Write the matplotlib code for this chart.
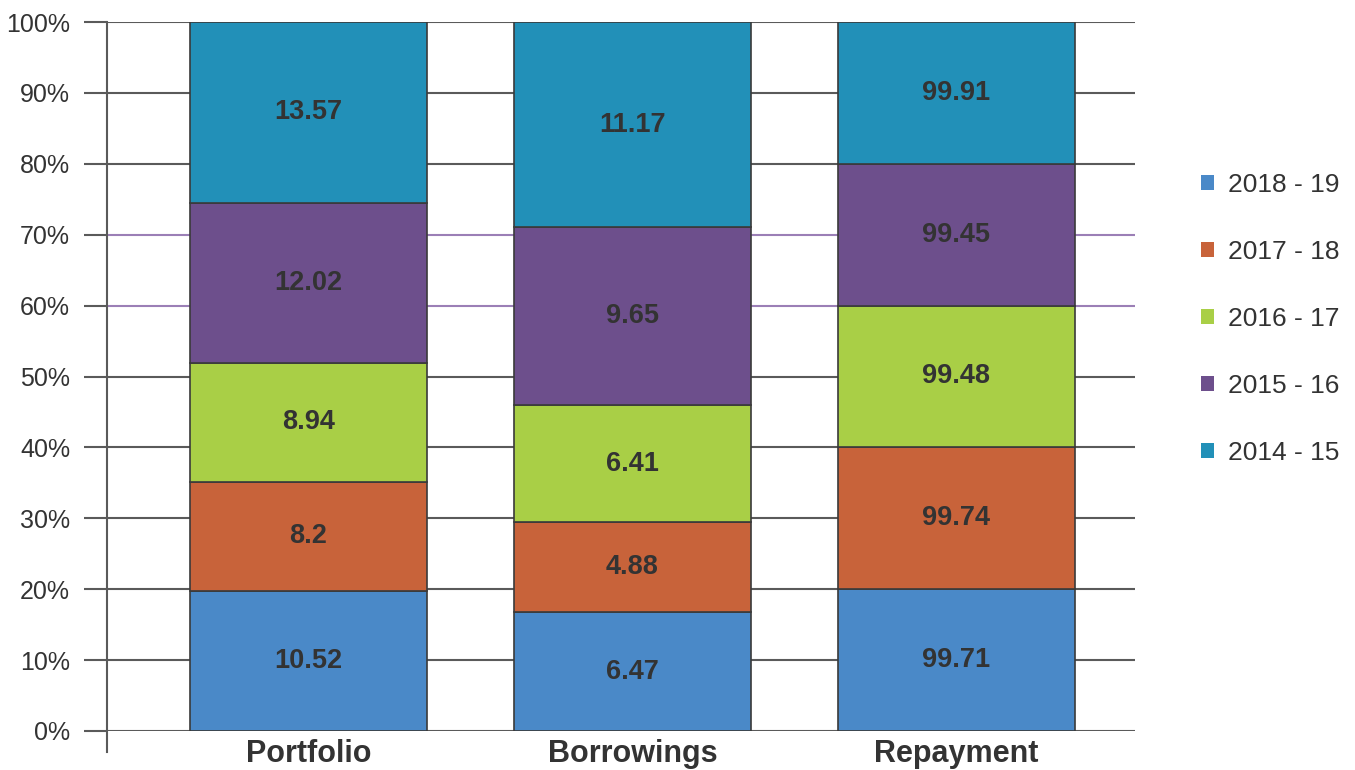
import numpy as np
import matplotlib.pyplot as plt
from matplotlib.lines import Line2D

plt.rcParams['font.family'] = ['Liberation Sans', 'DejaVu Sans']

categories = ['Portfolio', 'Borrowings', 'Repayment']
years = ['2018 - 19', '2017 - 18', '2016 - 17', '2015 - 16', '2014 - 15']
values = {
    '2018 - 19': [10.52, 6.47, 99.71],
    '2017 - 18': [8.2, 4.88, 99.74],
    '2016 - 17': [8.94, 6.41, 99.48],
    '2015 - 16': [12.02, 9.65, 99.45],
    '2014 - 15': [13.57, 11.17, 99.91],
}
colors = ['#4a89c8', '#c8633a', '#a9cf46', '#6d4f8c', '#2290b8']

fig = plt.figure(figsize=(13.55, 7.7), dpi=100)
ax = fig.add_axes([107 / 1355, 1 - 731 / 770, (1135 - 107) / 1355, (731 - 22) / 770])

x = np.arange(len(categories))
totals = np.sum([values[y] for y in years], axis=0)
bottom = np.zeros(len(categories))
for yr, col in zip(years, colors):
    raw = np.array(values[yr])
    share = raw / totals * 100
    ax.bar(x, share, 0.73, bottom=bottom, color=col, edgecolor='#3a3a3a',
           linewidth=1.2, label=yr, zorder=2)
    for xi, b, h, v in zip(x, bottom, share, raw):
        ax.text(xi, b + h / 2, f'{v:g}', ha='center', va='center',
                fontsize=19.5, fontweight='bold', color='#333333', zorder=3)
    bottom += share

ax.set_xlim(-0.622, 2.551)
ax.set_ylim(0, 100)
ax.set_yticks(np.arange(0, 101, 10))
ax.set_yticklabels([f'{t}%' for t in range(0, 101, 10)], fontsize=18, color='#333333')
ax.set_xticks(x)
ax.set_xticklabels(categories, fontsize=22, fontweight='bold', color='#333333')
ax.tick_params(axis='x', length=0, pad=6)
ax.tick_params(axis='y', length=16.5, width=1.5, color='#5a5a5a', pad=10)

ax.yaxis.grid(True, color='#5a5a5a', linewidth=1.5)
ax.set_axisbelow(True)
# the 60% and 70% rules are drawn in violet
for gl, tk, val in zip(ax.yaxis.get_gridlines(), ax.yaxis.get_major_ticks(), range(0, 101, 10)):
    if val in (60, 70):
        gl.set_color('#9b7fb6')
        tk.tick1line.set_color('#9b7fb6')

for side in ['top', 'right', 'bottom', 'left']:
    ax.spines[side].set_visible(False)
ax.add_line(Line2D([0, 0], [-0.03, 1], transform=ax.transAxes, color='#5a5a5a',
                   linewidth=1.5, clip_on=False, zorder=1))

handles, labels = ax.get_legend_handles_labels()
leg = fig.legend(handles, labels, loc='upper left', bbox_to_anchor=(1177 / 1355, 1 - 149 / 770),
                 frameon=False, fontsize=19, handlelength=0.5, handleheight=0.5,
                 handletextpad=0.55, labelspacing=1.63, labelcolor='#333333')
for h in leg.legend_handles:
    h.set_edgecolor('none')

fig.savefig('out.png', dpi=100)
